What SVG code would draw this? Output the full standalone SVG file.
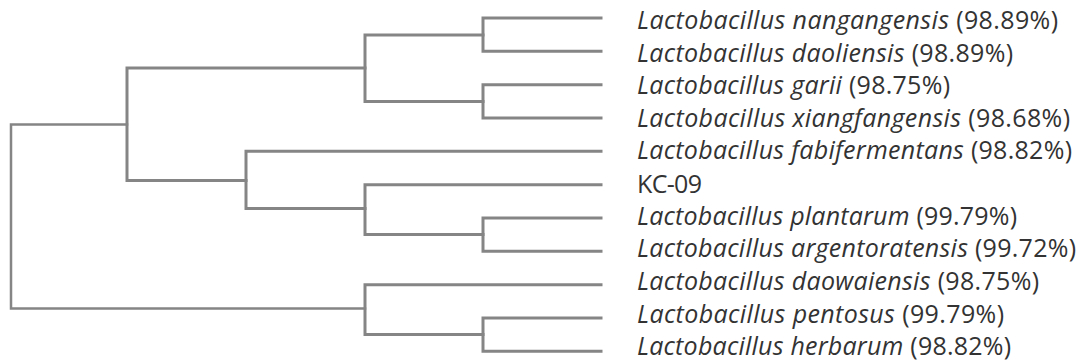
<svg xmlns="http://www.w3.org/2000/svg" width="1085" height="362" viewBox="0 0 1085 362">
  <style>
    .br { fill: none; stroke: #858585; stroke-width: 3; stroke-linecap: square; stroke-linejoin: miter; }
    .lbl { font-family: "Open Sans", "Noto Sans", "DejaVu Sans", sans-serif; font-size: 25px; fill: #333333; }
    .sp { font-style: italic; }
  </style>
  <rect width="1085" height="362" fill="#ffffff"/>

  <!-- dendrogram branches -->
  <g id="connectors">
    <!-- root -->
    <path class="br" d="M127,124.5 H11 V308.5 H365" style="stroke-width:2.5"/>
    <!-- upper clade -->
    <path class="br" d="M365,68 H127 V180.5 H246"/>
    <path class="br" d="M483,35 H365 V101.5 H483"/>
    <path class="br" d="M601,18 H483 V51.3 H601"/>
    <path class="br" d="M601,84.7 H483 V118 H601"/>
    <!-- middle clade -->
    <path class="br" d="M601,151.3 H246 V208.5 H365"/>
    <path class="br" d="M601,184.7 H365 V234.5 H483"/>
    <path class="br" d="M601,218 H483 V251.3 H601"/>
    <!-- lower clade -->
    <path class="br" d="M601,284.7 H365 V334.5 H483"/>
    <path class="br" d="M601,318 H483 V351.3 H601"/>
  </g>

  <!-- leaf labels -->
  <g id="leaf-nangangensis"><text class="lbl" x="637" y="29" textLength="421"><tspan class="sp">Lactobacillus nangangensis</tspan> (98.89%)</text></g>
  <g id="leaf-daoliensis"><text class="lbl" x="637" y="61.6" textLength="376"><tspan class="sp">Lactobacillus daoliensis</tspan> (98.89%)</text></g>
  <g id="leaf-garii"><text class="lbl" x="637" y="94.2" textLength="313"><tspan class="sp">Lactobacillus garii</tspan> (98.75%)</text></g>
  <g id="leaf-xiangfangensis"><text class="lbl" x="637" y="126.8" textLength="433"><tspan class="sp">Lactobacillus xiangfangensis</tspan> (98.68%)</text></g>
  <g id="leaf-fabifermentans"><text class="lbl" x="637" y="159.4" textLength="435"><tspan class="sp">Lactobacillus fabifermentans</tspan> (98.82%)</text></g>
  <g id="leaf-kc09"><text class="lbl" x="637" y="192.5" textLength="65">KC-09</text></g>
  <g id="leaf-plantarum"><text class="lbl" x="637" y="224.6" textLength="380"><tspan class="sp">Lactobacillus plantarum</tspan> (99.79%)</text></g>
  <g id="leaf-argentoratensis"><text class="lbl" x="637" y="257.2" textLength="439"><tspan class="sp">Lactobacillus argentoratensis</tspan> (99.72%)</text></g>
  <g id="leaf-daowaiensis"><text class="lbl" x="637" y="289.8" textLength="402"><tspan class="sp">Lactobacillus daowaiensis</tspan> (98.75%)</text></g>
  <g id="leaf-pentosus"><text class="lbl" x="637" y="322.5" textLength="367"><tspan class="sp">Lactobacillus pentosus</tspan> (99.79%)</text></g>
  <g id="leaf-herbarum"><text class="lbl" x="637" y="355" textLength="374"><tspan class="sp">Lactobacillus herbarum</tspan> (98.82%)</text></g>
</svg>
